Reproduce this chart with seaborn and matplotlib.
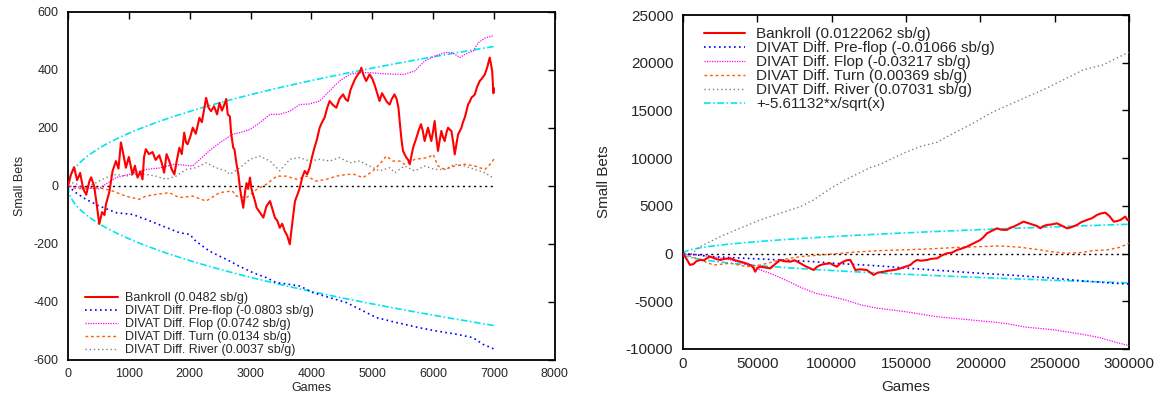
import numpy as np
import pandas as pd
import matplotlib
matplotlib.use("Agg")
import matplotlib.pyplot as plt
import seaborn as sns

# ---------------- Match 1: 7000 games ----------------
games_a = [0, 50, 100, 150, 200, 250, 300, 350, 380, 430, 470, 514, 560, 600, 624, 680, 733, 788, 830, 870,
           900, 952, 1000, 1060, 1100, 1143, 1190, 1225, 1250, 1280, 1330, 1390, 1440, 1500, 1540, 1580, 1620,
           1665, 1700, 1748, 1790, 1830, 1870, 1910, 1940, 1965, 2010, 2050, 2100, 2160, 2200, 2270, 2310,
           2350, 2400, 2450, 2490, 2530, 2570, 2600, 2625, 2660, 2680, 2715, 2735, 2770, 2800, 2825, 2850,
           2880, 2910, 2935, 2960, 2990, 3015, 3040, 3070, 3100, 3150, 3210, 3260, 3320, 3360, 3400, 3440,
           3480, 3520, 3560, 3600, 3645, 3690, 3730, 3770, 3810, 3850, 3890, 3930, 3970, 4010, 4050, 4090,
           4135, 4175, 4215, 4260, 4300, 4350, 4410, 4460, 4520, 4560, 4600, 4640, 4680, 4720, 4765, 4800,
           4820, 4860, 4900, 4930, 4955, 5000, 5035, 5080, 5120, 5160, 5200, 5240, 5285, 5320, 5365, 5400,
           5430, 5450, 5480, 5505, 5530, 5560, 5590, 5615, 5640, 5670, 5700, 5725, 5760, 5800, 5830, 5860,
           5890, 5915, 5940, 5970, 6000, 6025, 6050, 6080, 6110, 6135, 6160, 6190, 6220, 6245, 6270, 6300,
           6330, 6355, 6380, 6410, 6440, 6465, 6490, 6520, 6550, 6575, 6600, 6630, 6660, 6685, 6720, 6765,
           6800, 6850, 6890, 6930, 6950, 6970, 6990, 7000]
bankroll_a = [0, 40, 65, 20, 45, -10, -30, 15, 30, 0, -60, -131, -90, -100, -63, -20, 52, 86, 60, 150,
              120, 63, 100, 40, 70, 29, 50, 23, 100, 127, 110, 117, 90, 106, 80, 46, 110,
              86, 60, 40, 90, 132, 110, 184, 150, 144, 170, 201, 180, 235, 220, 304, 270,
              258, 275, 247, 287, 260, 281, 300, 247, 240, 184, 132, 127, 75, 40, -6, -40,
              -75, -20, 10, -10, 29, -10, -29, -50, -75, -90, -109, -70, -52, -80, -109, -120,
              -144, -130, -155, -170, -201, -120, -52, -30, -6, 30, 52, 40, 63, 100, 132, 160,
              201, 220, 235, 270, 293, 280, 270, 300, 316, 300, 293, 330, 351, 370, 385, 395,
              408, 380, 362, 375, 385, 370, 351, 320, 293, 320, 305, 290, 281, 300, 316, 300,
              270, 224, 160, 121, 110, 98, 90, 75, 100, 132, 150, 166, 190, 213, 190, 155,
              180, 201, 180, 155, 190, 224, 170, 121, 160, 190, 170, 155, 185, 201, 195, 190,
              150, 109, 140, 178, 190, 201, 220, 236, 260, 282, 290, 305, 310, 316, 340, 362,
              370, 385, 410, 443, 420, 397, 320, 337]

steps_a = [0, 130, 295, 515, 790, 1060, 1280, 1555, 1830, 2000, 2100, 2320, 2540, 2605, 2800, 3040, 3260,
           3420, 3600, 3810, 4030, 4300, 4575, 4795, 5070, 5400, 5780, 6055, 6380, 6655, 6820, 7000]
preflop_a = [0, -23, -46, -69, -92, -98, -115, -138, -161, -167, -190, -224, -247, -253, -275, -299, -316,
             -333, -338, -345, -368, -385, -402, -425, -454, -471, -489, -500, -511, -523, -546, -562]

steps_f = [0, 250, 500, 790, 1000, 1280, 1500, 1750, 2050, 2320, 2500, 2700, 2825, 2990, 3150, 3320, 3480,
           3645, 3810, 3970, 4135, 4300, 4460, 4630, 4790, 4955, 5120, 5290, 5450, 5530, 5700, 5860, 6025,
           6190, 6310, 6360, 6440, 6520, 6660, 6740, 6850, 7000]
flop_a = [0, -5, -10, 29, 40, 57, 62, 75, 69, 121, 150, 178, 184, 195, 218, 247, 247,
          258, 281, 283, 293, 328, 362, 385, 391, 391, 388, 386, 385, 385, 397, 431, 448,
          460, 460, 454, 443, 454, 466, 494, 510, 519]

steps_t = [0, 120, 290, 460, 600, 733, 950, 1170, 1280, 1445, 1665, 1830, 2050, 2270, 2490, 2700, 2770,
           2935, 3100, 3260, 3430, 3590, 3755, 3920, 4080, 4245, 4410, 4575, 4700, 4850, 5010, 5120, 5230,
           5340, 5450, 5530, 5700, 5915, 6000, 6080, 6190, 6355, 6520, 6685, 6850, 6960, 7000]
turn_a = [0, -8, -10, -5, -10, -17, -35, -46, -35, -29, -23, -40, -35, -52, -23, -17, -35,
          -40, -12, 6, 34, 34, 23, 34, 17, 23, 34, 40, 40, 29, 52, 75, 103,
          86, 86, 75, 92, 98, 109, 69, 57, 69, 75, 69, 57, 80, 94]

steps_r = [0, 100, 250, 410, 625, 790, 950, 1115, 1280, 1445, 1610, 1775, 1940, 2100, 2270, 2430, 2600,
           2660, 2825, 2990, 3150, 3320, 3480, 3645, 3810, 3970, 4135, 4300, 4460, 4630, 4790, 4955, 5120,
           5285, 5370, 5530, 5700, 5860, 6025, 6190, 6355, 6520, 6685, 6850, 7000]
river_a = [10, 11, -5, 6, 29, 40, 34, 40, 40, 34, 23, 34, 57, 63, 80, 63, 52,
           40, 63, 92, 103, 86, 52, 92, 98, 86, 92, 86, 98, 80, 86, 69, 52,
           63, 46, 69, 52, 69, 57, 57, 75, 69, 57, 46, 26]

band_a = 5.75          # sb per sqrt(game), match 1 significance band
span_a = 7000

# ---------------- Match 2: 300000 games ----------------
games_b = [0, 2500, 4700, 7000, 9000, 11600, 14000, 16000, 18400, 21000, 23000, 25100, 28000, 31800,
           35000, 38600, 42000, 45300, 47000, 48600, 50000, 52000, 55000, 58700, 62000, 65400, 68000,
           72200, 75000, 78900, 82000, 85600, 87900, 90000, 92400, 95000, 99100, 101000, 103600, 106000,
           108000, 110000, 112500, 114000, 115900, 119000, 123700, 126000, 128200, 131000, 135000, 138000,
           141700, 144000, 146200, 150000, 152900, 155000, 157400, 160000, 164100, 167000, 170900, 174000,
           177600, 181000, 184300, 187000, 191000, 195500, 200000, 202000, 204500, 208000, 211200, 214000,
           217900, 220000, 222400, 226000, 229100, 232000, 235900, 238000, 240400, 242000, 244800, 248000,
           251500, 255000, 258300, 261000, 265000, 268000, 271700, 275000, 278500, 281000, 284100, 287000,
           289700, 292000, 294200, 297500, 299000, 300000]
bankroll_b = [0, -600, -1190, -1100, -800, -670, -700, -500, -320, -500, -600, -670, -550, -500,
              -700, -850, -1000, -1200, -1400, -1900, -1500, -1370, -1450, -1550, -1100, -670, -800,
              -850, -700, -1020, -1300, -1550, -1720, -1400, -1200, -1100, -1020, -1200, -1370, -1000,
              -850, -700, -670, -1100, -1720, -1650, -1720, -2000, -2240, -2000, -1900, -1800,
              -1720, -1650, -1550, -1350, -1200, -900, -670, -750, -670, -550, -500, -200,
              30, 100, 380, 500, 730, 1080, 1430, 1700, 2130, 2400, 2650, 2500,
              2480, 2700, 2820, 3100, 3350, 3200, 3000, 2900, 2650, 2850, 3000, 3050,
              3170, 2900, 2650, 2750, 3000, 3300, 3520, 3700, 4050, 4200, 4290, 3900,
              3350, 3400, 3520, 3870, 3500, 3662]

steps_pb = [0, 10000, 20000, 32000, 43000, 55000, 65400, 77000, 87900, 99000, 110300, 121000, 132700,
            144000, 155100, 166000, 177600, 189000, 200000, 211000, 222400, 233000, 244800, 256000,
            267200, 278000, 289700, 300000]
preflop_b = [0, -150, -320, -420, -500, -590, -670, -760, -850, -980, -1100, -1190, -1300,
             -1440, -1580, -1700, -1820, -1950, -2070, -2170, -2280, -2400, -2520, -2680,
             -2840, -2970, -3110, -3198]

steps_fb = [0, 10000, 20000, 30000, 40000, 50000, 60000, 70000, 80000, 90000, 100000, 110000, 120000,
            130000, 140000, 150000, 160000, 170000, 180000, 190000, 200000, 210000, 220000, 230000,
            240000, 250000, 260000, 270000, 280000, 290000, 300000]
flop_b = [0, -150, -350, -600, -1000, -1600, -2150, -2850, -3600, -4200, -4500, -4900, -5400,
          -5700, -5900, -6100, -6350, -6600, -6750, -6900, -7050, -7200, -7400, -7700,
          -7850, -8000, -8250, -8500, -8800, -9250, -9651]

steps_tb = [0, 11600, 20600, 31800, 43000, 52000, 65400, 78900, 92400, 105800, 119300, 132700, 146200,
            159600, 173100, 186500, 200000, 213400, 226900, 240400, 249300, 258300, 267200, 276200,
            285100, 294200, 300000]
turn_b = [0, -670, -1200, -1020, -1370, -1200, -670, -320, -150, 30, 200, 310, 380,
          450, 550, 660, 730, 800, 660, 380, 170, 30, 100, 310, 380, 660, 1107]

steps_rb = [0, 4700, 11400, 24900, 38300, 51800, 65200, 78700, 87600, 100000, 110100, 125800, 132500,
            148200, 159400, 170600, 184000, 193000, 208700, 226600, 244600, 260200, 269200, 282600,
            298400, 300000]
river_b = [0, -150, 720, 1770, 2650, 3520, 4220, 4900, 5600, 6900, 7800, 9000, 9350,
           10510, 11210, 11650, 12780, 13480, 14870, 16100, 17330, 18540, 19250, 19770,
           21000, 21093]

band_b = 5.61132
span_b = 300000

labels_a = ["Bankroll (0.0482 sb/g)", "DIVAT Diff. Pre-flop (-0.0803 sb/g)", "DIVAT Diff. Flop (0.0742 sb/g)",
            "DIVAT Diff. Turn (0.0134 sb/g)", "DIVAT Diff. River (0.0037 sb/g)"]
labels_b = ["Bankroll (0.0122062 sb/g)", "DIVAT Diff. Pre-flop (-0.01066 sb/g)", "DIVAT Diff. Flop (-0.03217 sb/g)",
            "DIVAT Diff. Turn (0.00369 sb/g)", "DIVAT Diff. River (0.07031 sb/g)", "+-5.61132*x/sqrt(x)"]

# ---------------- styling ----------------
sns.set_style("white")
plt.rcParams["font.family"] = ["Liberation Sans", "DejaVu Sans"]
plt.rcParams["axes.unicode_minus"] = False
plt.rcParams["xtick.direction"] = "in"
plt.rcParams["ytick.direction"] = "in"

styles = [
    dict(color="#ff0000", lw=1.5, ls="-"),
    dict(color="#0000ff", lw=1.2, ls=(0, (1, 2))),
    dict(color="#ff00ff", lw=0.9, ls=(0, (1, 1))),
    dict(color="#ff5a00", lw=1.0, ls=(0, (2, 2))),
    dict(color="#808080", lw=1.0, ls=(0, (1, 2))),
]
cyan = dict(color="#00e5ee", lw=1.2, ls=(0, (4, 1.5, 1, 1.5)))
zero = dict(color="black", lw=1.0, ls=(0, (1.5, 2.5)))

fig = plt.figure(figsize=(11.62, 4.0), dpi=100)
ax1 = fig.add_axes([0.0585, 0.10, 0.419, 0.87])
ax2 = fig.add_axes([0.5878, 0.1275, 0.3838, 0.835])


def draw(ax, series, labels, band, span, show_band_label, fs, xpad, ypad):
    # zero reference and significance band
    xs = np.linspace(0, span, 400)
    sns.lineplot(x=[0, span], y=[0, 0], ax=ax, **zero, legend=False)
    hi = band * np.sqrt(xs)
    sns.lineplot(x=xs, y=hi, ax=ax, **cyan,
                 label=labels[-1] if show_band_label else None, zorder=2)
    sns.lineplot(x=xs, y=-hi, ax=ax, **cyan, zorder=2)
    for i in [4, 3, 2, 1, 0]:
        gx, gy = series[i]
        sns.lineplot(x=gx, y=gy, ax=ax, sort=False, estimator=None, label=labels[i],
                     zorder=3 + (5 - i), **styles[i])
    ax.tick_params(axis="both", which="both", top=True, right=True, length=5,
                   width=1, labelsize=fs, color="black")
    ax.tick_params(axis="y", pad=7)
    ax.tick_params(axis="x", pad=6)
    for s in ax.spines.values():
        s.set_color("black")
        s.set_linewidth(1.3)
    ax.set_ylabel("Small Bets", fontsize=fs, labelpad=ypad)
    ax.set_xlabel("Games", fontsize=fs, labelpad=xpad)


series_a = [(games_a, bankroll_a), (steps_a, preflop_a), (steps_f, flop_a), (steps_t, turn_a), (steps_r, river_a)]
series_b = [(games_b, bankroll_b), (steps_pb, preflop_b), (steps_fb, flop_b), (steps_tb, turn_b), (steps_rb, river_b)]

draw(ax1, series_a, labels_a + [""], band_a, span_a, False, 9, 1, 5)
ax1.set_xlim(0, 8000)
ax1.set_ylim(-600, 600)
ax1.set_xticks(range(0, 8001, 1000))
ax1.set_yticks(range(-600, 601, 200))
h, l = ax1.get_legend_handles_labels()
idx = [l.index(t) for t in labels_a]
ax1.legend([h[i] for i in idx], [l[i] for i in idx], loc="lower left", bbox_to_anchor=(0.015, -0.018),
           frameon=False, fontsize=9, handlelength=2.6, labelspacing=0.08, handletextpad=0.6,
           borderpad=0.3)

draw(ax2, series_b, labels_b, band_b, span_b, True, 11, 6, 11)
ax2.set_xlim(0, 300000)
ax2.set_ylim(-10000, 25000)
ax2.set_xticks(range(0, 300001, 50000))
ax2.set_yticks(range(-10000, 25001, 5000))
h, l = ax2.get_legend_handles_labels()
idx = [l.index(t) for t in labels_b]
ax2.legend([h[i] for i in idx], [l[i] for i in idx], loc="upper left", bbox_to_anchor=(0.02, 1.0),
           frameon=False, fontsize=11, handlelength=2.7, labelspacing=0.0, handletextpad=0.7,
           borderpad=0.3)

fig.savefig("out.png", dpi=100)
